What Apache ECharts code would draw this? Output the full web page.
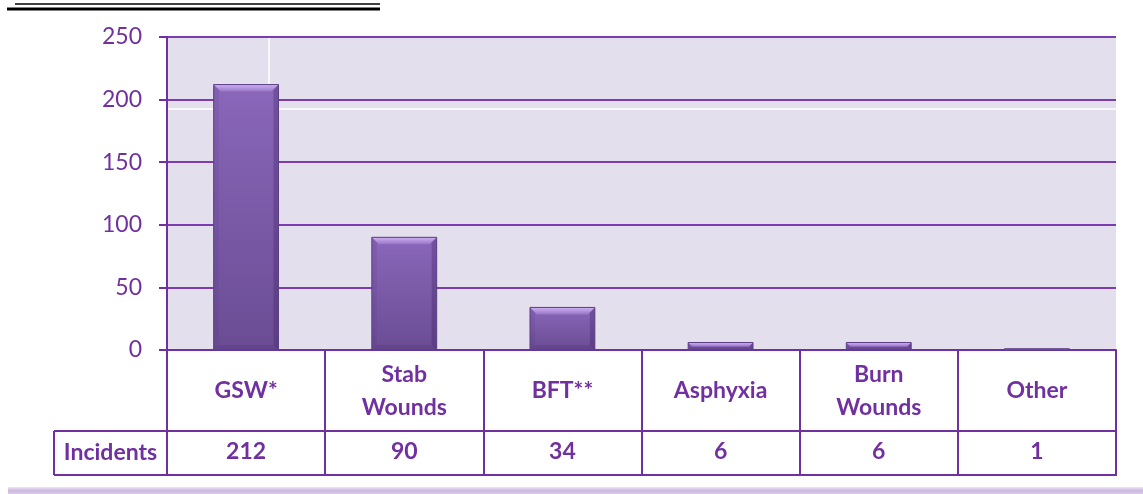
<!DOCTYPE html>
<html>
<head>
<meta charset="utf-8">
<script src="https://cdn.jsdelivr.net/npm/echarts@6/dist/echarts.min.js"></script>
<style>
  html, body { margin: 0; padding: 0; background: #ffffff; }
  #chart { width: 1143px; height: 494px; }
</style>
</head>
<body>
<div id="chart"></div>
<script>
// Incidents by cause of injury
const categories = ['GSW*', 'Stab\nWounds', 'BFT**', 'Asphyxia', 'Burn\nWounds', 'Other'];
const incidents = [212, 90, 34, 6, 6, 1];
const yTicks = { min: 0, max: 250, interval: 50 };
const rowHeader = 'Incidents';

const PURPLE = '#7030a0';
const FONT = 'Lato, "Open Sans", sans-serif';
const TABLE_FONT_SIZE = 23;

const chart = echarts.init(document.getElementById('chart'));

// Bevelled column: body gradient plus light top facet and shaded side facets
function renderBar(params, api) {
  const idx = api.value(0);
  const val = api.value(1);
  const base = api.coord([idx, 0]);
  const top = api.coord([idx, val]);
  const w = api.size([1, 0])[0] * 0.41;
  const x = top[0] - w / 2;
  const y = top[1];
  const h = Math.max(base[1] - top[1], 1);
  const b = Math.min(7, h * 0.55);
  const s = Math.min(5, h * 0.4);
  return {
    type: 'group',
    children: [
      {
        type: 'rect',
        shape: { x: x, y: y, width: w, height: h },
        style: {
          fill: new echarts.graphic.LinearGradient(0, 0, 0, 1, [
            { offset: 0, color: '#8a67ba' },
            { offset: 1, color: '#6a4c94' }
          ])
        }
      },
      {
        type: 'polygon',
        shape: { points: [[x, y + h], [x + s, y + h - s], [x + w - s, y + h - s], [x + w, y + h]] },
        style: { fill: 'rgba(60,35,95,0.18)' }
      },
      {
        type: 'polygon',
        shape: { points: [[x + w, y], [x + w - s, y + s], [x + w - s, y + h - s], [x + w, y + h]] },
        style: { fill: 'rgba(50,25,85,0.28)' }
      },
      {
        type: 'polygon',
        shape: { points: [[x, y], [x + s, y + s], [x + s, y + h - s], [x, y + h]] },
        style: { fill: 'rgba(70,40,110,0.12)' }
      },
      {
        type: 'polygon',
        shape: { points: [[x, y], [x + w, y], [x + w - b, y + b], [x + b, y + b]] },
        style: {
          fill: new echarts.graphic.LinearGradient(0, 0, 0, 1, [
            { offset: 0, color: '#d0aff5' },
            { offset: 1, color: '#9777c6' }
          ])
        }
      },
      {
        type: 'rect',
        shape: { x: x, y: y, width: w, height: h },
        style: { fill: 'none', stroke: '#5a3f84', lineWidth: 1 }
      }
    ]
  };
}

const gridL = 167, gridR = 1116, gridT = 37, gridB = 350;
const rowSplit = 431, tableBottom = 475, headerLeft = 54;

chart.setOption({
  animation: false,
  backgroundColor: '#ffffff',
  grid: {
    left: gridL, right: 1143 - gridR, top: gridT, bottom: 494 - gridB,
    show: true, backgroundColor: '#e4dfec', borderWidth: 0
  },
  xAxis: [
    {
      type: 'category',
      data: categories,
      position: 'bottom',
      axisLine: { show: true, lineStyle: { color: PURPLE, width: 2 } },
      axisTick: { show: true, inside: false, length: tableBottom - gridB, lineStyle: { color: PURPLE, width: 2 } },
      axisLabel: {
        margin: 41, verticalAlign: 'middle', lineHeight: 33,
        color: PURPLE, fontFamily: FONT, fontWeight: 'bold', fontSize: TABLE_FONT_SIZE
      },
      splitLine: { show: false }
    },
    {
      type: 'category',
      data: incidents.map(String),
      position: 'bottom',
      axisLine: { show: false },
      axisTick: { show: false },
      axisLabel: {
        margin: 102, verticalAlign: 'middle',
        color: PURPLE, fontFamily: FONT, fontWeight: 'bold', fontSize: TABLE_FONT_SIZE
      },
      splitLine: { show: false }
    }
  ],
  yAxis: {
    type: 'value',
    min: yTicks.min, max: yTicks.max, interval: yTicks.interval,
    axisLine: { show: true, lineStyle: { color: PURPLE, width: 2 } },
    axisTick: { show: true, length: 8, lineStyle: { color: PURPLE, width: 2 } },
    axisLabel: { margin: 25, color: PURPLE, fontFamily: FONT, fontSize: 23 },
    splitLine: { show: true, lineStyle: { color: '#7a3cb0', width: 2 } }
  },
  series: [{
    type: 'custom',
    renderItem: renderBar,
    encode: { x: 0, y: 1 },
    data: incidents.map((v, i) => [i, v]),
    z: 5
  }],
  graphic: [
    // faint white guide lines inside the plot
    { type: 'line', silent: true, z: 1, shape: { x1: gridL + 1, y1: 109, x2: gridR, y2: 109 }, style: { stroke: '#ffffff', lineWidth: 1.5 } },
    { type: 'line', silent: true, z: 1, shape: { x1: 269, y1: gridT + 1, x2: 269, y2: 109 }, style: { stroke: '#ffffff', lineWidth: 1.5 } },
    // table rules
    { type: 'line', silent: true, z: 10, shape: { x1: headerLeft, y1: rowSplit, x2: gridR + 1, y2: rowSplit }, style: { stroke: PURPLE, lineWidth: 2 } },
    { type: 'line', silent: true, z: 10, shape: { x1: headerLeft, y1: tableBottom, x2: gridR + 1, y2: tableBottom }, style: { stroke: PURPLE, lineWidth: 2 } },
    { type: 'line', silent: true, z: 10, shape: { x1: headerLeft, y1: rowSplit, x2: headerLeft, y2: tableBottom }, style: { stroke: PURPLE, lineWidth: 2 } },
    {
      type: 'text', silent: true, z: 10,
      style: {
        x: (headerLeft + gridL) / 2, y: (rowSplit + tableBottom) / 2,
        text: rowHeader, align: 'center', verticalAlign: 'middle',
        fill: PURPLE, font: 'bold ' + TABLE_FONT_SIZE + 'px ' + FONT
      }
    },
    // heading underline
    { type: 'line', silent: true, shape: { x1: 15, y1: 4, x2: 380, y2: 4 }, style: { stroke: '#000000', lineWidth: 1.5 } },
    { type: 'line', silent: true, shape: { x1: 7, y1: 9, x2: 380, y2: 9 }, style: { stroke: '#000000', lineWidth: 3 } },
    // soft shadow band at the bottom
    {
      type: 'rect', silent: true,
      shape: { x: 8, y: 487, width: 1135, height: 7 },
      style: {
        fill: new echarts.graphic.LinearGradient(0, 0, 0, 1, [
          { offset: 0, color: '#eee6f5' },
          { offset: 0.5, color: '#cdb8e0' },
          { offset: 1, color: '#d9c9e8' }
        ])
      }
    }
  ]
});
</script>
</body>
</html>
